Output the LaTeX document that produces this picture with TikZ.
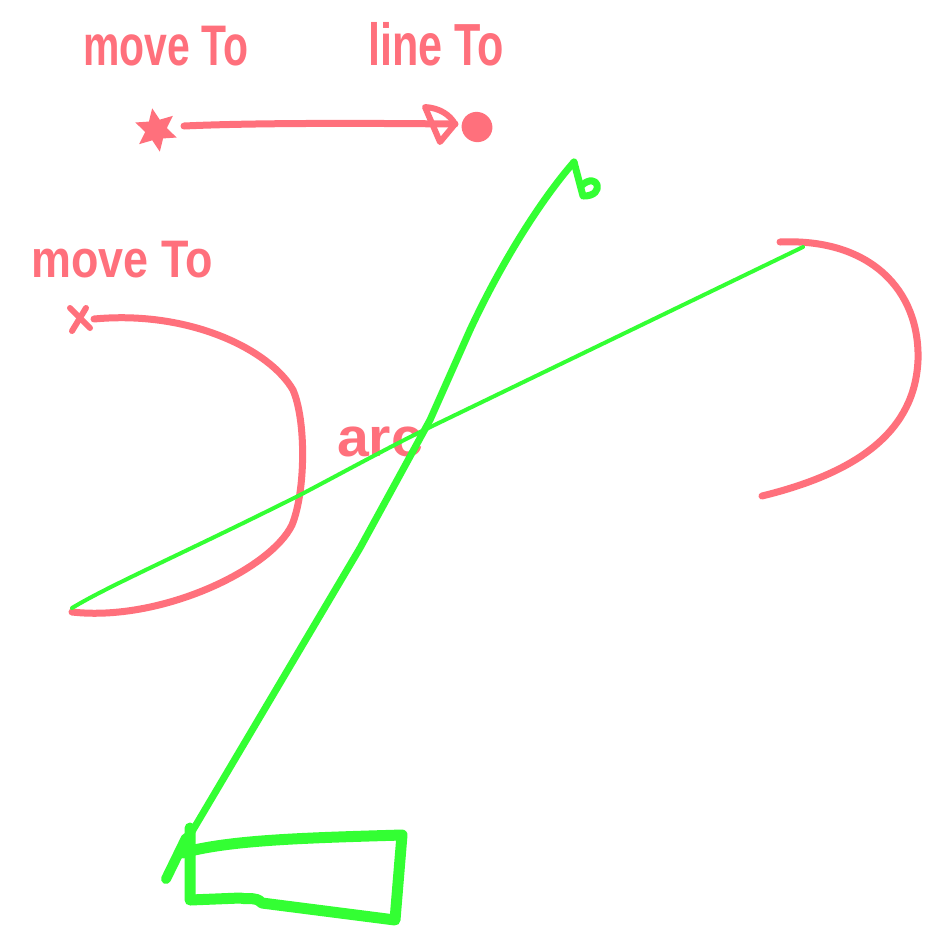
\documentclass[tikz,border=0pt]{standalone}
\usepackage{fontspec}
\setmainfont{Liberation Sans}
\usetikzlibrary{arrows.meta,shapes.geometric}
\definecolor{pen}{HTML}{FF707C}
\definecolor{lime}{HTML}{33FF33}
\tikzset{
  redink/.style={draw=pen, line width=7pt, line cap=round, line join=round},
  greenthin/.style={draw=lime, line width=4pt, line cap=round, line join=round},
  greenthick/.style={draw=lime, line width=7pt, line cap=round, line join=round},
  greenbox/.style={draw=lime, line width=11pt, line cap=round, line join=round},
  label/.style={text=pen, inner sep=0pt, font=\bfseries\fontsize{44}{44}\selectfont},
}
\begin{document}
\begin{tikzpicture}[x=1pt,y=-1pt]
\useasboundingbox[fill=white] (0,0) rectangle (933,927);
% labels
\node[label] (mv1) at (166,46) {\scalebox{0.93}[1.3]{move To}};
\node[label] (ln1) at (436,44) {\scalebox{0.98}[1.35]{line To}};
\node[label] (mv2) at (122,260) {\scalebox{1.02}[1.2]{move To}};
\node[label] (arc) at (380,442) {\scalebox{1.3}[1.25]{arc}};
% moveTo star and lineTo dot
\node[star, star points=6, star point ratio=2.0, fill=pen, minimum size=44pt, inner sep=0pt, rotate=10] (st) at (156,130) {};
\node[ellipse, fill=pen, minimum width=31pt, minimum height=30pt, inner sep=0pt, rotate=-30] (dot) at (477,127) {};
\coordinate (s0) at (184,126);
\coordinate (tip) at (455,124);
\draw[redink] (s0) .. controls (250,123) and (350,123) .. (tip);
\draw[redink, line width=6pt] (425,107) .. controls (440,108) and (450,115) .. (tip) -- (440,142) -- cycle;
% second moveTo cross and red curve
\coordinate (x0) at (80,319);
\draw[redink, line width=6pt] (70,308) -- (90,328);
\draw[redink, line width=6pt] (86,308) -- (72,331);
\draw[redink] (x0) ++(14,0) .. controls (190,310) and (270,350) .. (293,390)
  .. controls (306,420) and (306,490) .. (292,525)
  .. controls (270,570) and (160,622) .. (72,612);
% right red arc
\draw[redink] (780,242) .. controls (870,238) and (920,290) .. (918,360)
  .. controls (915,430) and (860,472) .. (762,496);
% thin green line
\coordinate (g1) at (72,608);
\coordinate (g2) at (803,247);
\draw[greenthin] (g1) .. controls (110,585) and (180,555) .. (300,495)
  .. controls (340,474) and (380,452) .. (420,432) -- (g2);
% thick green line with b squiggle
\coordinate (h1) at (574,162);
\coordinate (h2) at (166,879);
\draw[greenthick] (h1) .. controls (545,195) and (505,255) .. (470,330)
  -- (430,420) -- (360,548) -- (190,835) -- (h2);
\draw[greenthick, line width=10pt] (186,838) -- (166,879);
\draw[greenthick] (h1) -- (583,196);
\draw[greenthick] (581,186) .. controls (598,170) and (606,196) .. (584,196);
% green box
\draw[greenbox] (182,853) .. controls (230,840) and (300,838) .. (402,835)
  -- (395,920) -- (262,903) .. controls (255,896) and (250,900) .. (240,898)
  -- (190,900) -- (190,828);
\end{tikzpicture}
\end{document}
